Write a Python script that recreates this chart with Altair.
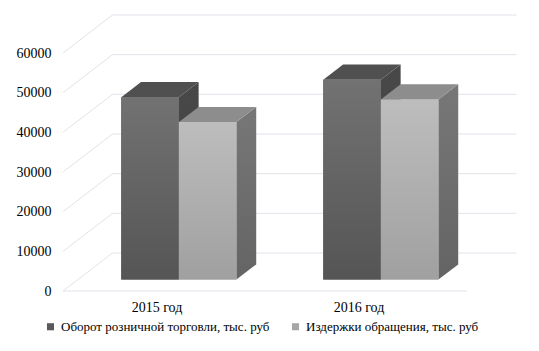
import altair as alt
import pandas as pd

# ---- data ----
years = ["2015 год", "2016 год"]
series = ["Оборот розничной торговли, тыс. руб", "Издержки обращения, тыс. руб"]
turnover = [46000, 50400]
costs = [39700, 45400]
y_ticks = [0, 10000, 20000, 30000, 40000, 50000, 60000]

# ---- styling / geometry of the pseudo-3D box ----
W, H = 404, 238
YMAX = 60000
XMAX = 2.0
DXu = 49.5 / W * XMAX          # depth of the box in x units
DYv = 38.0 / H * YMAX          # depth of the box in value units
F0, FT = 0.3, 0.4              # bar front depth fraction and bar thickness fraction
BW = 0.285                     # width of one bar in category units

FONT = "Liberation Serif, Times New Roman, serif"
GRID = "#e2e2ea"

values = {series[0]: turnover, series[1]: costs}

front_rows, top_rows, side_rows = [], [], []
for i, yr in enumerate(years):
    for j, s in enumerate(series):
        v = values[s][i]
        bid = f"{i}-{j}"
        xl = i + 0.5 - BW + j * BW + F0 * DXu
        xr = xl + BW
        yb = F0 * DYv
        yt = v + yb
        front_rows.append(dict(series=s, bar=bid, x=xl, x2=xr, y=yt, y2=yb))
        top_rows.append(dict(series=s, bar=bid, y=yt, x=xl, x2=xr))
        top_rows.append(dict(series=s, bar=bid, y=yt + FT * DYv, x=xl + FT * DXu, x2=xr + FT * DXu))
        side_rows.append(dict(series=s, bar=bid, x=xr, y=yt, y2=yb))
        side_rows.append(dict(series=s, bar=bid, x=xr + FT * DXu, y=yt + FT * DYv, y2=yb + FT * DYv))

front = pd.DataFrame(front_rows)
top = pd.DataFrame(top_rows)
side = pd.DataFrame(side_rows)

grid_rows = []
for v in y_ticks:
    grid_rows.append(dict(x=0, y=v, x2=DXu, y2=v + DYv))
    grid_rows.append(dict(x=DXu, y=v + DYv, x2=XMAX + DXu, y2=v + DYv))
grid_rows.append(dict(x=0, y=0, x2=XMAX, y2=0))
grid = pd.DataFrame(grid_rows)

labels = pd.DataFrame({"year": years, "x": [i + 0.5 for i in range(len(years))], "y": [0] * len(years)})

xs = alt.Scale(domain=[0, XMAX], nice=False, zero=False)
ys = alt.Scale(domain=[0, YMAX], nice=False, zero=False)
yaxis = alt.Axis(values=y_ticks, title=None, grid=False, ticks=False, domain=False,
                 labelFont=FONT, labelFontSize=14, labelColor="#000000", labelPadding=12,
                 format="d")

def X(f="x"):
    return alt.X(f"{f}:Q", scale=xs, axis=None)

def Y(f="y"):
    return alt.Y(f"{f}:Q", scale=ys, axis=yaxis)

def grad(c1, c2):
    return alt.LinearGradient(gradient="linear",
                              stops=[alt.GradientStop(color=c1, offset=0),
                                     alt.GradientStop(color=c2, offset=1)],
                              x1=0, x2=0, y1=0, y2=1)

grid_layer = alt.Chart(grid).mark_rule(color=GRID, strokeWidth=1).encode(
    x=X(), x2="x2:Q", y=Y(), y2="y2:Q")

base_colors = {series[0]: ("#4a4a4a", "#505050", "#727272", "#555555"),
               series[1]: ("#767676", "#8d8d8d", "#bdbdbd", "#a0a0a0")}
side_grad = {series[0]: ("#484848", "#434343"), series[1]: ("#777777", "#646464")}

layers = [grid_layer]

legend_layer = alt.Chart(front).mark_rect().encode(
    x=X(), x2="x2:Q", y=Y(), y2="y2:Q",
    color=alt.Color("series:N",
                    scale=alt.Scale(domain=series, range=["#595959", "#a6a6a6"]),
                    legend=alt.Legend(orient="none", legendX=-19, legendY=267,
                                      direction="horizontal", title=None,
                                      symbolType="square", symbolSize=50,
                                      symbolOpacity=1, symbolStrokeWidth=0,
                                      labelFont=FONT, labelFontSize=13, labelLimit=0,
                                      labelColor="#000000", labelOffset=4,
                                      columnPadding=19, padding=0)))

for s in series:
    sc = side_grad[s]
    layers.append(alt.Chart(side).transform_filter(alt.datum.series == s)
                  .mark_area(orient="vertical", color=grad(sc[0], sc[1]))
                  .encode(x=X(), y=Y(), y2="y2:Q", detail="bar:N"))
    layers.append(alt.Chart(top).transform_filter(alt.datum.series == s)
                  .mark_area(orient="horizontal", color=base_colors[s][1])
                  .encode(y=Y(), x=X(), x2="x2:Q", detail="bar:N"))
    if s == series[0]:
        layers.append(legend_layer)
    layers.append(alt.Chart(front).transform_filter(alt.datum.series == s)
                  .mark_rect(color=grad(base_colors[s][2], base_colors[s][3]))
                  .encode(x=X(), x2="x2:Q", y=Y(), y2="y2:Q"))

text_layer = alt.Chart(labels).mark_text(font=FONT, fontSize=14, color="#000000",
                                         baseline="middle", dy=17, dx=-7).encode(
    x=X(), y=Y(), text="year:N")
layers.append(text_layer)

chart = alt.layer(*layers).properties(
    width=W, height=H,
    autosize="none",
    padding={"left": 63, "top": 53, "right": 72, "bottom": 60},
    background="white",
).configure_view(stroke=None)

chart.save("out.html", embed_options={"renderer": "svg", "actions": False})
